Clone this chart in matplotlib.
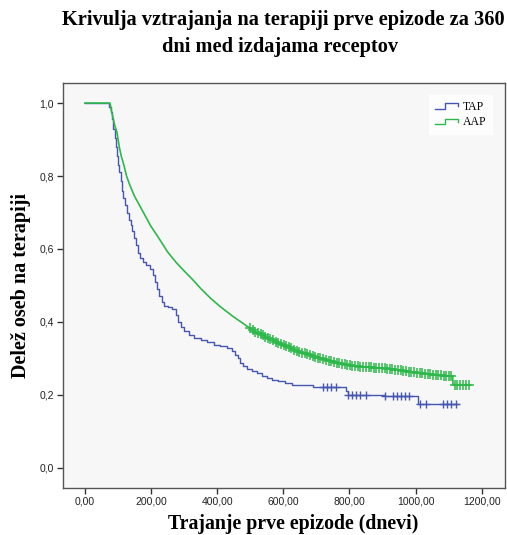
import numpy as np
import matplotlib
matplotlib.use("Agg")
import matplotlib.pyplot as plt
from matplotlib.lines import Line2D
from matplotlib.legend_handler import HandlerBase
from matplotlib.ticker import FuncFormatter

# TAP (modra) - Kaplan-Meier stopnice
tap_days = [0, 73, 78, 82, 86, 90, 94, 97, 101, 104, 108, 112, 116, 120, 126, 132,
            138, 144, 150, 156, 162, 168, 175, 185, 196, 205, 212, 218, 224, 232,
            240, 250, 262, 275, 282, 290, 300, 315, 330, 350, 370, 390, 410, 430,
            445, 455, 462, 470, 478, 490, 505, 520, 535, 550, 565, 585, 605, 625,
            645, 690, 790, 795, 907, 1007, 1128]
tap_surv = [1.0, 0.99, 0.975, 0.955, 0.93, 0.905, 0.88, 0.855, 0.83, 0.81, 0.785,
            0.76, 0.74, 0.72, 0.70, 0.68, 0.665, 0.65, 0.63, 0.61, 0.59, 0.575,
            0.565, 0.555, 0.545, 0.53, 0.51, 0.49, 0.47, 0.455, 0.445, 0.44, 0.435,
            0.42, 0.40, 0.385, 0.375, 0.365, 0.357, 0.35, 0.345, 0.338, 0.333,
            0.328, 0.32, 0.31, 0.30, 0.288, 0.278, 0.272, 0.266, 0.26, 0.253,
            0.246, 0.242, 0.237, 0.232, 0.228, 0.226, 0.223, 0.21, 0.2, 0.196,
            0.176, 0.176]
tap_cens = [720, 732, 744, 759, 796, 808, 820, 832, 850, 907, 932, 944, 956,
            968, 980, 1013, 1031, 1083, 1095, 1107, 1122]

# AAP (zelena)
aap_days = [0, 76, 80, 85, 90, 97, 104, 110, 118, 126, 136, 150, 165, 180, 200,
            227, 250, 278, 300, 327, 350, 380, 408, 448, 480, 509, 550, 600, 650,
            700, 750, 800, 850, 900, 950, 1000, 1050, 1100, 1112, 1113, 1165]
aap_surv = [1.0, 1.0, 0.98, 0.96, 0.94, 0.92, 0.88, 0.855, 0.83, 0.80, 0.775,
            0.745, 0.72, 0.695, 0.662, 0.625, 0.592, 0.561, 0.54, 0.515, 0.492,
            0.465, 0.443, 0.415, 0.395, 0.376, 0.358, 0.336, 0.318, 0.303, 0.291,
            0.281, 0.276, 0.274, 0.268, 0.261, 0.256, 0.252, 0.25, 0.228, 0.228]
aap_cens = [498, 507, 515, 522, 531, 538, 546, 553, 561, 570, 577, 585, 592, 601,
            609, 616, 624, 633, 641, 648, 656, 664, 672, 681, 689, 697, 704, 712,
            721, 729, 737, 744, 752, 761, 769, 776, 785, 793, 801, 809, 818, 826,
            833, 841, 850, 858, 866, 874, 881, 890, 898, 906, 913, 922, 930, 938,
            946, 955, 963, 971, 979, 987, 996, 1004, 1012, 1019, 1028, 1036, 1044,
            1052, 1060, 1068, 1077, 1085, 1093, 1101, 1108, 1118, 1126, 1134, 1143,
            1151, 1160]

tap_color = "#4557B0"
aap_color = "#2DB84A"


class StepHandler(HandlerBase):
    def create_artists(self, legend, orig_handle, xdescent, ydescent,
                       width, height, fontsize, trans):
        xs = np.array([0, 0.45, 0.45, 1.0, 1.0]) * width - xdescent
        ys = np.array([0.15, 0.15, 0.8, 0.8, 0.45]) * height - ydescent
        ln = Line2D(xs, ys, color=orig_handle.get_color(), lw=1.0)
        ln.set_transform(trans)
        return [ln]


fig = plt.figure(figsize=(5.07, 5.35), dpi=100)
ax = fig.add_axes([0.1243, 0.0879, 0.8717, 0.757])
ax.set_facecolor("#F7F7F7")

tap_line, = ax.step(tap_days, tap_surv, where="post", color=tap_color, lw=1.0)
aap_line, = ax.plot(aap_days, aap_surv, color=aap_color, lw=1.2)

tap_idx = np.searchsorted(tap_days, tap_cens, side="right") - 1
ax.plot(tap_cens, np.array(tap_surv)[tap_idx], ls="none", marker="+",
        ms=6, mew=1.0, color=tap_color)
ax.plot(aap_cens, np.interp(aap_cens, aap_days, aap_surv), ls="none", marker="+",
        ms=7, mew=1.1, color=aap_color)

ax.set_xlim(-66, 1270)
ax.set_ylim(-0.055, 1.055)
ax.set_xticks([0, 200, 400, 600, 800, 1000, 1200])
ax.set_yticks([0, 0.2, 0.4, 0.6, 0.8, 1.0])
ax.xaxis.set_major_formatter(FuncFormatter(lambda v, p: f"{v:.2f}".replace(".", ",")))
ax.yaxis.set_major_formatter(FuncFormatter(lambda v, p: f"{v:.1f}".replace(".", ",")))
ax.tick_params(direction="out", length=4.5, width=1, color="#333333",
               labelsize=7.5, labelcolor="#222222", pad=2)
ax.tick_params(axis="x", pad=1.5)
for lab in ax.get_xticklabels() + ax.get_yticklabels():
    lab.set_family("Liberation Sans")
for sp in ax.spines.values():
    sp.set_color("#555555")
    sp.set_linewidth(1.0)

serif = "Liberation Serif"
ax.set_xlabel("Trajanje prve epizode (dnevi)", family=serif, fontweight="bold",
              fontsize=14.3, labelpad=6)
ax.xaxis.set_label_coords(0.52, -0.064)
ax.set_ylabel("Delež oseb na terapiji", family=serif, fontweight="bold",
              fontsize=14.5, labelpad=6)
fig.text(0.558, 0.962, "Krivulja vztrajanja na terapiji prve epizode za 360",
         ha="center", va="center", family=serif, fontweight="bold", fontsize=14.7)
fig.text(0.552, 0.912, "dni med izdajama receptov",
         ha="center", va="center", family=serif, fontweight="bold", fontsize=14.7)

leg = ax.legend([tap_line, aap_line], ["TAP", "AAP"],
                handler_map={tap_line: StepHandler(), aap_line: StepHandler()},
                loc="upper right", bbox_to_anchor=(0.985, 0.985),
                prop={"family": serif, "size": 8.5}, frameon=True, fancybox=False,
                handlelength=2.0, handletextpad=0.4, labelspacing=0.3,
                borderpad=0.5)
leg.get_frame().set_facecolor("white")
leg.get_frame().set_edgecolor("white")

fig.savefig("out.png", dpi=100, facecolor="white")
